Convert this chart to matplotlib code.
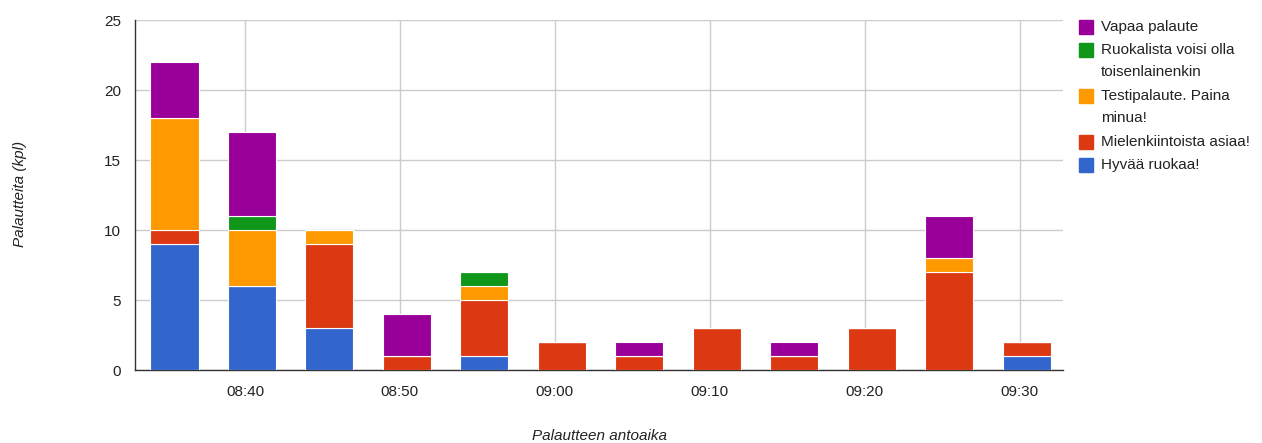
import matplotlib.pyplot as plt
from matplotlib.patches import Rectangle

plt.rcParams['font.family'] = ['Liberation Sans', 'DejaVu Sans']

# feedback counts per 5-minute slot (stack order bottom -> top)
times = ["08:35", "08:40", "08:45", "08:50", "08:55", "09:00",
         "09:05", "09:10", "09:15", "09:20", "09:25", "09:30"]
hyvaa = [9, 6, 3, 0, 1, 0, 0, 0, 0, 0, 0, 1]
mielenkiintoista = [1, 0, 6, 1, 4, 2, 1, 3, 1, 3, 7, 1]
testipalaute = [8, 4, 1, 0, 1, 0, 0, 0, 0, 0, 1, 0]
ruokalista = [0, 1, 0, 0, 1, 0, 0, 0, 0, 0, 0, 0]
vapaa = [4, 6, 0, 3, 0, 0, 1, 0, 1, 0, 3, 0]

legend_lines = [["Hyvää ruokaa!"], ["Mielenkiintoista asiaa!"],
                ["Testipalaute. Paina", "minua!"],
                ["Ruokalista voisi olla", "toisenlainenkin"],
                ["Vapaa palaute"]]
tick_labels = ["08:40", "08:50", "09:00", "09:10", "09:20", "09:30"]
colors = ["#3366CC", "#DC3912", "#FF9900", "#109618", "#990099"]


def to_min(t):
    h, m = t.split(":")
    return int(h) * 60 + int(m)


fig = plt.figure(figsize=(12.62, 4.43), dpi=100)
ax = fig.add_axes([135 / 1262, 1 - 370 / 443, 928 / 1262, 350 / 443])

x = [to_min(t) + 0.45 for t in times]
bottom = [0] * len(times)
for vals, c in zip([hyvaa, mielenkiintoista, testipalaute, ruokalista, vapaa], colors):
    ax.bar(x, vals, width=3.1, bottom=bottom, color=c, edgecolor="white",
           linewidth=0.8, zorder=3)
    bottom = [b + v for b, v in zip(bottom, vals)]

ax.set_xlim(to_min("08:40") - 7.1, to_min("08:40") + 52.8)
ax.set_ylim(0, 25)
ax.set_yticks(range(0, 26, 5))
ax.set_xticks([to_min(t) for t in tick_labels])
ax.set_xticklabels(tick_labels)
ax.grid(True, color="#cccccc", linewidth=1, zorder=0)
ax.tick_params(length=0, labelsize=11, colors="#222222")
ax.tick_params(axis="x", pad=11)
ax.tick_params(axis="y", pad=10)
for s in ["top", "right"]:
    ax.spines[s].set_visible(False)
for s in ["left", "bottom"]:
    ax.spines[s].set_color("#333333")
    ax.spines[s].set_linewidth(1)

fig.text(20 / 1262, 1 - 194 / 443, "Palautteita (kpl)", rotation=90, style="italic",
         fontsize=11, color="#222222", ha="center", va="center")
fig.text(600 / 1262, 1 - 436 / 443, "Palautteen antoaika", style="italic",
         fontsize=11, color="#222222", ha="center", va="center")

# legend drawn by hand so wrapped labels line up with the first row
entry_y = [165, 142, 96, 50, 27]
for lines, c, yy in zip(legend_lines, colors, entry_y):
    fig.add_artist(Rectangle((1079 / 1262, 1 - (yy + 7) / 443), 14 / 1262, 14 / 443,
                             transform=fig.transFigure, color=c))
    for k, line in enumerate(lines):
        fig.text(1101 / 1262, 1 - (yy + 22 * k) / 443, line, fontsize=11,
                 color="#222222", ha="left", va="center")

fig.savefig("out.png", dpi=100)
